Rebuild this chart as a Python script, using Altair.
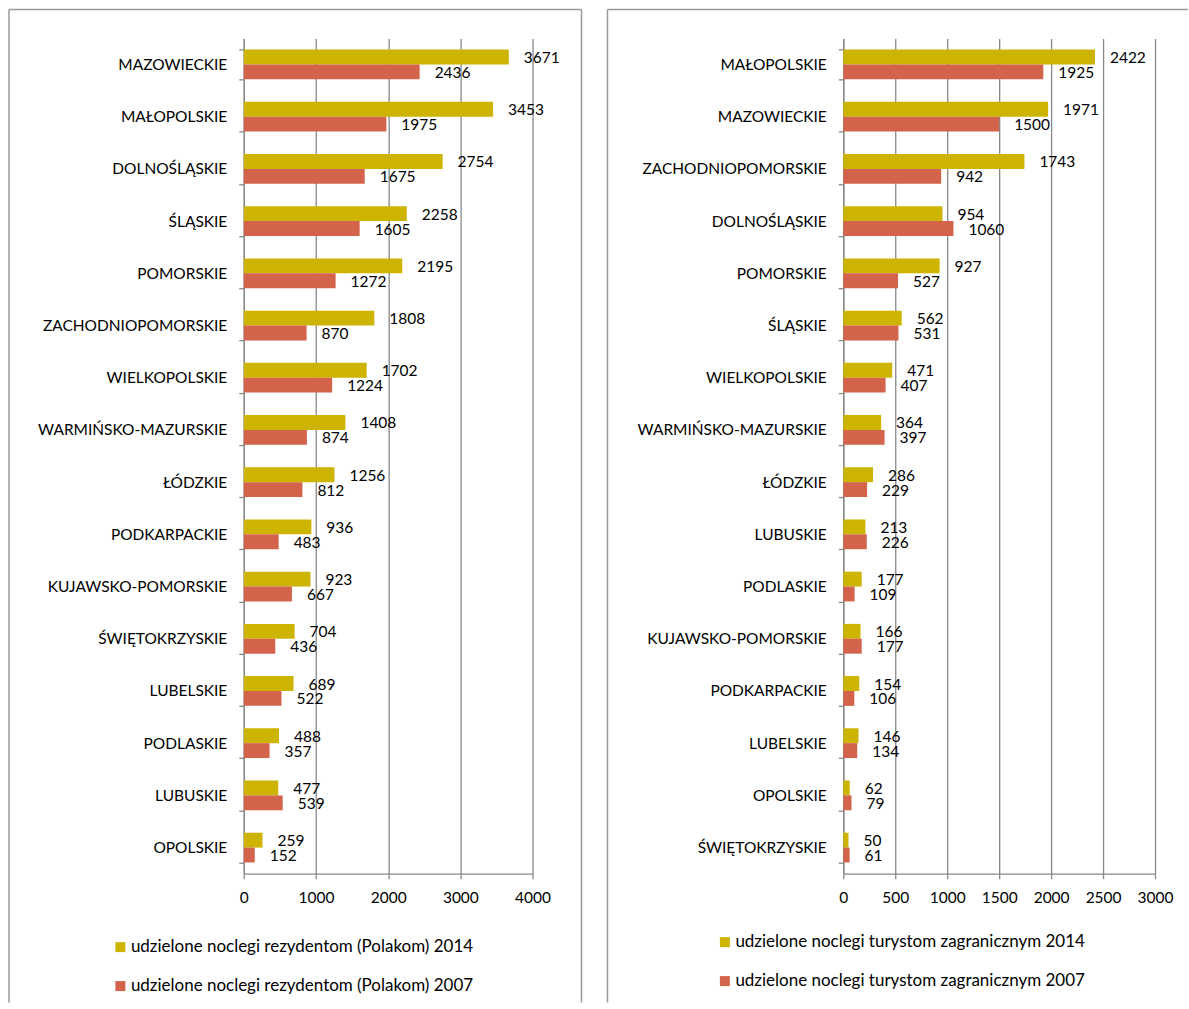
import altair as alt
import pandas as pd

FONT = "Lato"
YEL = "#CCB400"
RED = "#D4634B"
GRID = "#888888"
FRAME = "#999999"

regions_left = ["MAZOWIECKIE", "MAŁOPOLSKIE\u00a0", "DOLNOŚLĄSKIE", "ŚLĄSKIE", "POMORSKIE",
                "ZACHODNIOPOMORSKIE", "WIELKOPOLSKIE", "WARMIŃSKO-MAZURSKIE", "ŁÓDZKIE",
                "PODKARPACKIE", "KUJAWSKO-POMORSKIE", "ŚWIĘTOKRZYSKIE", "LUBELSKIE",
                "PODLASKIE", "LUBUSKIE", "OPOLSKIE"]
res_2014 = [3671, 3453, 2754, 2258, 2195, 1808, 1702, 1408, 1256, 936, 923, 704, 689, 488, 477, 259]
res_2007 = [2436, 1975, 1675, 1605, 1272, 870, 1224, 874, 812, 483, 667, 436, 522, 357, 539, 152]
lab_res_14 = "udzielone noclegi rezydentom (Polakom) 2014"
lab_res_07 = "udzielone noclegi rezydentom (Polakom) 2007"

regions_right = ["MAŁOPOLSKIE\u00a0", "MAZOWIECKIE", "ZACHODNIOPOMORSKIE", "DOLNOŚLĄSKIE", "POMORSKIE",
                 "ŚLĄSKIE", "WIELKOPOLSKIE", "WARMIŃSKO-MAZURSKIE", "ŁÓDZKIE", "LUBUSKIE",
                 "PODLASKIE", "KUJAWSKO-POMORSKIE", "PODKARPACKIE", "LUBELSKIE", "OPOLSKIE",
                 "ŚWIĘTOKRZYSKIE"]
for_2014 = [2422, 1971, 1743, 954, 927, 562, 471, 364, 286, 213, 177, 166, 154, 146, 62, 50]
for_2007 = [1925, 1500, 942, 1060, 527, 531, 407, 397, 229, 226, 109, 177, 106, 134, 79, 61]
lab_for_14 = "udzielone noclegi turystom zagranicznym 2014"
lab_for_07 = "udzielone noclegi turystom zagranicznym 2007"

ticks_left = [0, 1000, 2000, 3000, 4000]
ticks_right = [0, 500, 1000, 1500, 2000, 2500, 3000]


def panel(regions, v14, v07, lab14, lab07, ticks, width, frame_left, frame_right, leg_x, leg_y):
    n = len(regions)
    df = pd.DataFrame({
        "region": regions + regions,
        "series": [lab14] * n + [lab07] * n,
        "value": v14 + v07,
    })
    y = alt.Y("region:N", sort=regions,
              scale=alt.Scale(paddingInner=0.43, paddingOuter=0.215),
              axis=alt.Axis(title=None, tickBand="extent", tickSize=5, labelPadding=12,
                            labelFontSize=15.5, labelFont=FONT, labelColor="#000000",
                            domainColor=GRID, tickColor=GRID, grid=False, labelLimit=400,
                            domainWidth=1.3, tickWidth=1.3))
    yoff = alt.YOffset("series:N", sort=[lab14, lab07],
                       scale=alt.Scale(paddingInner=0, paddingOuter=0))
    x = alt.X("value:Q", scale=alt.Scale(domain=[ticks[0], ticks[-1]], nice=False),
              axis=alt.Axis(title=None, values=ticks, format="d", tickSize=5, labelPadding=12,
                            labelFontSize=15.5, labelFont=FONT, labelColor="#000000",
                            domainColor=GRID, tickColor=GRID, grid=True, gridColor=GRID,
                            gridWidth=1.3, domainWidth=1.3, tickWidth=1.3, labelFlush=False))
    color = alt.Color("series:N", scale=alt.Scale(domain=[lab14, lab07], range=[YEL, RED]),
                      legend=alt.Legend(title=None, orient="none", legendX=leg_x, legendY=leg_y,
                                        direction="vertical", symbolType="square", symbolSize=100,
                                        symbolStrokeWidth=0, labelFontSize=17, labelFont=FONT,
                                        labelColor="#000000", labelLimit=600, rowPadding=21,
                                        labelOffset=2, padding=0))
    base = alt.Chart(df)
    bars = base.mark_bar().encode(y=y, x=x, yOffset=yoff, color=color)
    text = base.mark_text(align="left", baseline="middle", dx=15, dy=1, fontSize=15.5,
                          font=FONT, color="#000000").encode(
        y=y, x=x, yOffset=yoff, text=alt.Text("value:Q", format="d"))
    fdf = pd.DataFrame({"k": [0]})
    fbase = alt.Chart(fdf)
    left_line = fbase.mark_rule(color=FRAME, strokeWidth=1.5).encode(
        x=alt.value(frame_left), y=alt.value(-29), y2=alt.value(965))
    top_line = fbase.mark_rule(color=FRAME, strokeWidth=1.5).encode(
        x=alt.value(frame_left), x2=alt.value(frame_right), y=alt.value(-29))
    layers = [left_line, top_line, bars, text]
    if frame_right < 340:
        right_line = fbase.mark_rule(color=FRAME, strokeWidth=1.5).encode(
            x=alt.value(frame_right), y=alt.value(-29), y2=alt.value(965))
        layers.insert(1, right_line)
    return alt.layer(*layers).properties(width=width, height=836)


left = panel(regions_left, res_2014, res_2007, lab_res_14, lab_res_07, ticks_left, 289,
             -235, 338, -132, 901)
right = panel(regions_right, for_2014, for_2007, lab_for_14, lab_for_07, ticks_right, 312,
              -236, 345, -127, 896)

chart = alt.hconcat(left, right, spacing=24).resolve_scale(
    color="independent", x="independent", y="independent", yOffset="independent").resolve_legend(
    color="independent").properties(
    padding={"left": 8, "top": 8, "right": 0, "bottom": 0},
    background="white").configure_view(stroke=None)

chart.save("out.html", embed_options={"renderer": "svg", "actions": False})
